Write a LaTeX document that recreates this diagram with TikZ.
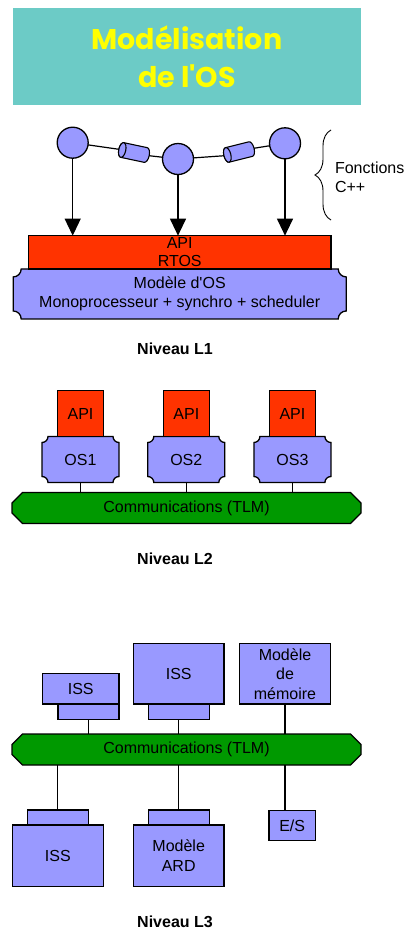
\documentclass[tikz,border=0pt]{standalone}
\usepackage{fontspec}
\setmainfont{Liberation Sans}
\newfontfamily\titlefont{Poppins}
\usetikzlibrary{shapes,shapes.misc,arrows.meta,backgrounds,calc,positioning,decorations.pathreplacing}

\definecolor{titlecyan}{RGB}{108,203,198}
\definecolor{titleyellow}{RGB}{255,255,0}
\definecolor{apired}{RGB}{255,51,0}
\definecolor{osblue}{RGB}{153,153,255}
\definecolor{busgreen}{RGB}{0,153,0}

% cadre a coins concaves autour d'un noeud
\newcommand\plaque[2]{%
  \begin{scope}[on background layer]
    \draw[plaquestyle] ($(#1.north west)+(#2,0)$) -- ($(#1.north east)+(-#2,0)$)
      arc[start angle=180,end angle=270,radius=#2] -- ($(#1.south east)+(0,#2)$)
      arc[start angle=90,end angle=180,radius=#2] -- ($(#1.south west)+(#2,0)$)
      arc[start angle=0,end angle=90,radius=#2] -- ($(#1.north west)+(0,-#2)$)
      arc[start angle=270,end angle=360,radius=#2] -- cycle;
  \end{scope}}

% petit cylindre incline, extremites nommees #1g et #1d
\newcommand\cylindre[3]{%
  \begin{scope}[shift={#2}, rotate=#3]
    \filldraw[cylstyle] (-12,7.5) -- (12,7.5) arc[start angle=90,end angle=-90,x radius=3.5,y radius=7.5]
      -- (-12,-7.5) arc[start angle=270,end angle=90,x radius=3.5,y radius=7.5] -- cycle;
    \draw[cylstyle] (-12,0) ellipse[x radius=3.5,y radius=7.5];
    \coordinate (#1g) at (-15.5,0);
    \coordinate (#1d) at (15.5,0);
  \end{scope}}

\begin{document}
\begin{tikzpicture}[x=1pt,y=1pt,
    every node/.style={font=\fontsize{16}{19.5}\selectfont, inner sep=0pt, outer sep=0pt},
    box/.style={draw, line width=1.3pt, fill=osblue, align=center},
    apibox/.style={box, fill=apired},
    plaquenode/.style={align=center},
    plaquestyle/.style={draw, line width=1.3pt, fill=osblue},
    bus/.style={chamfered rectangle, chamfered rectangle xsep=7pt, draw, line width=1.3pt, fill=busgreen, minimum width=349, minimum height=31},
    fct/.style={circle, draw, line width=1.3pt, fill=osblue, minimum size=31},
    cylstyle/.style={draw, line width=1.1pt, fill=osblue},
    conn/.style={line width=1.2pt},
    niveau/.style={font=\bfseries\fontsize{16}{19}\selectfont}]
  \useasboundingbox (0,0) rectangle (406,-929);

  \node[fill=titlecyan, minimum width=348, minimum height=97, text=titleyellow, align=center,
        font=\titlefont\bfseries\fontsize{28.5}{38}\selectfont] (titre) at (187,-56.5) {Modélisation\\de l\textquotesingle OS};

  % Niveau L1
  \node[fct] (f1) at (72.7,-142.7) {};
  \node[fct] (f2) at (178,-159) {};
  \node[fct] (f3) at (285,-143.3) {};
  \cylindre{c1}{(134,-152.5)}{-12}
  \cylindre{c2}{(239,-152)}{14}
  \draw[conn] (f1) -- (c1g);
  \draw[conn] (c1d) -- (f2);
  \draw[conn] (f2) -- (c2g);
  \draw[conn] (c2d) -- (f3);

  \node[apibox, minimum width=302.7, minimum height=33.3, font=\fontsize{16}{18}\selectfont] (rtos) at (179.7,-252.3) {API\\RTOS};
  \node[plaquenode, minimum width=333, minimum height=50, below=0pt of rtos] (osmod) {Modèle d\textquotesingle OS\\Monoprocesseur + synchro + scheduler};
  \plaque{osmod}{8}
  \foreach \f in {f1,f2,f3}
    \draw[conn, -{Triangle[width=16pt,length=17pt]}] (\f) -- (\f |- rtos.north);

  \coordinate (bh) at (331,-130);
  \coordinate (bb) at (331,-220);
  \draw[line width=0.9pt, decorate, decoration={brace, amplitude=16}] (bb) -- (bh);
  \node[align=left, anchor=west] (fonctions) at (335,-177.5) {Fonctions\\C++};

  \node[niveau] (n1) at (175,-349) {Niveau L1};

  % Niveau L2
  \foreach \i/\x in {1/80.5,2/186.3,3/292.4} {
    \node[plaquenode, minimum width=77, minimum height=46] (os\i) at (\x,-459.5) {OS\i};
    \plaque{os\i}{6}
    \node[apibox, minimum size=46, above=0pt of os\i] (api\i) {API};
  }
  \node[bus] (bus2) at (186.5,-508) {Communications (TLM)};
  \foreach \i in {1,2,3}
    \draw[conn] (os\i) -- (os\i |- bus2.north);

  \node[niveau] (n2) at (175,-559) {Niveau L2};

  % Niveau L3
  \node[box, minimum width=76.7, minimum height=30.7] (iss1) at (80.7,-688.7) {ISS};
  \node[box, minimum width=61, minimum height=15.3, anchor=north east] (iss1b) at (iss1.south east) {};
  \node[box, minimum width=90.7, minimum height=60.7] (iss2) at (178.7,-673.7) {ISS};
  \node[box, minimum width=61, minimum height=15.3, below=0pt of iss2] (iss2b) {};
  \node[box, minimum width=91.3, minimum height=60.7] (mem) at (285,-673.7) {Modèle\\de\\mémoire};
  \node[bus] (bus3) at (186.5,-749.5) {Communications (TLM)};
  \node[box, minimum width=91, minimum height=61.7] (iss3) at (57.8,-855.8) {ISS};
  \node[box, minimum width=60.7, minimum height=15, above=0pt of iss3] (iss3b) {};
  \node[box, minimum width=90.7, minimum height=61.7] (ard) at (178.7,-855.8) {Modèle\\ARD};
  \node[box, minimum width=61, minimum height=15, above=0pt of ard] (ardb) {};
  \node[box, minimum width=46.3, minimum height=30] (es) at (292.2,-825.7) {E/S};

  \draw[conn] (iss1b) -- (iss1b |- bus3.north);
  \draw[conn] (iss2b) -- (iss2b |- bus3.north);
  \draw[conn] (mem) -- (mem |- bus3.north);
  \draw[conn] (bus3.south -| iss3b) -- (iss3b);
  \draw[conn] (bus3.south -| ardb) -- (ardb);
  \draw[conn] (bus3.south -| mem) -- (es.north -| mem);

  \node[niveau] (n3) at (175,-921.3) {Niveau L3};
\end{tikzpicture}
\end{document}
